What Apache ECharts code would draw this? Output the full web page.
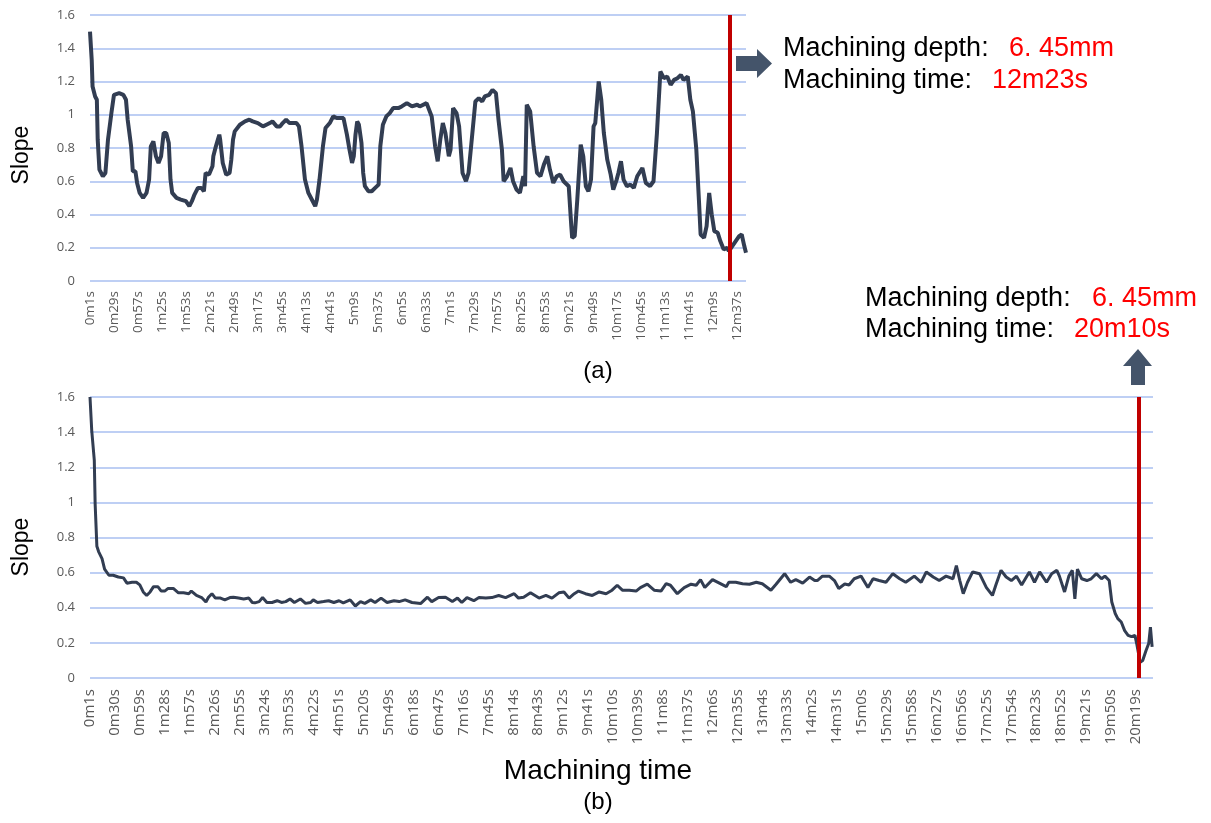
<!DOCTYPE html>
<html><head><meta charset="utf-8">
<script src="https://cdn.jsdelivr.net/npm/echarts@6/dist/echarts.min.js"></script>
<style>html,body{margin:0;padding:0;background:#fff}#c{width:1211px;height:823px}</style>
</head><body><div id="c"></div>
<script>
// ---- tick labels ----
const topTickLabels = ['0m1s','0m29s','0m57s','1m25s','1m53s','2m21s','2m49s','3m17s','3m45s','4m13s','4m41s','5m9s','5m37s','6m5s','6m33s','7m1s','7m29s','7m57s','8m25s','8m53s','9m21s','9m49s','10m17s','10m45s','11m13s','11m41s','12m9s','12m37s'];
const bottomTickLabels = ['0m1s','0m30s','0m59s','1m28s','1m57s','2m26s','2m55s','3m24s','3m53s','4m22s','4m51s','5m20s','5m49s','6m18s','6m47s','7m16s','7m45s','8m14s','8m43s','9m12s','9m41s','10m10s','10m39s','11m8s','11m37s','12m6s','12m35s','13m4s','13m33s','14m2s','14m31s','15m0s','15m29s','15m58s','16m27s','16m56s','17m25s','17m54s','18m23s','18m52s','19m21s','19m50s','20m19s'];

// ---- series: [seconds, slope] ----
const topSeries = [[1,1.50],[3,1.33],[4,1.17],[7,1.11],[9,1.09],[10,0.85],[12,0.67],[16,0.63],[19,0.65],[22,0.85],[26,1.01],[29,1.12],[35,1.13],[40,1.12],[43,1.09],[45,0.97],[49,0.81],[51,0.66],[54,0.66],[56,0.59],[59,0.53],[63,0.50],[67,0.53],[70,0.61],[72,0.81],[75,0.84],[78,0.75],[81,0.71],[84,0.75],[87,0.89],[90,0.89],[93,0.83],[95,0.61],[97,0.53],[102,0.50],[107,0.49],[113,0.48],[117,0.45],[120,0.48],[123,0.52],[127,0.56],[131,0.56],[134,0.54],[136,0.65],[140,0.64],[144,0.69],[145,0.75],[148,0.81],[152,0.88],[153,0.85],[156,0.71],[160,0.64],[164,0.65],[166,0.73],[168,0.85],[170,0.90],[176,0.94],[182,0.96],[187,0.97],[191,0.96],[197,0.95],[203,0.93],[207,0.94],[211,0.95],[214,0.96],[219,0.93],[223,0.93],[226,0.95],[230,0.97],[234,0.95],[238,0.95],[242,0.95],[245,0.93],[248,0.81],[252,0.61],[256,0.53],[260,0.49],[264,0.45],[266,0.49],[269,0.61],[273,0.81],[276,0.92],[281,0.95],[285,0.99],[289,0.98],[293,0.98],[297,0.98],[301,0.88],[304,0.79],[307,0.71],[309,0.75],[311,0.88],[313,0.96],[315,0.94],[318,0.83],[320,0.65],[322,0.57],[326,0.54],[330,0.54],[334,0.56],[338,0.58],[340,0.81],[343,0.94],[347,0.99],[351,1.01],[355,1.04],[361,1.04],[365,1.05],[371,1.07],[377,1.05],[383,1.06],[386,1.05],[394,1.07],[400,0.99],[404,0.81],[407,0.72],[410,0.85],[413,0.95],[416,0.89],[420,0.75],[422,0.79],[425,1.04],[429,1.01],[432,0.93],[436,0.65],[440,0.60],[443,0.65],[446,0.81],[451,1.08],[455,1.10],[459,1.08],[462,1.11],[467,1.12],[471,1.15],[475,1.13],[478,0.97],[482,0.79],[484,0.60],[488,0.63],[492,0.68],[495,0.60],[499,0.55],[503,0.53],[507,0.63],[509,0.57],[511,1.06],[515,1.02],[519,0.81],[523,0.65],[527,0.63],[531,0.70],[535,0.75],[538,0.67],[542,0.59],[546,0.63],[550,0.64],[554,0.60],[560,0.57],[563,0.33],[564,0.26],[567,0.27],[570,0.49],[574,0.82],[577,0.75],[580,0.57],[583,0.54],[586,0.61],[589,0.93],[591,0.95],[595,1.20],[598,1.09],[601,0.89],[605,0.73],[609,0.64],[612,0.55],[616,0.61],[618,0.65],[621,0.72],[624,0.61],[628,0.57],[632,0.58],[636,0.56],[640,0.63],[646,0.68],[650,0.59],[655,0.57],[659,0.60],[663,0.89],[667,1.26],[671,1.22],[675,1.23],[679,1.18],[683,1.21],[687,1.22],[691,1.24],[694,1.21],[699,1.23],[702,1.09],[705,1.02],[709,0.79],[712,0.49],[714,0.28],[718,0.26],[721,0.33],[724,0.53],[727,0.40],[730,0.30],[734,0.29],[737,0.24],[741,0.19],[745,0.20],[747,0.18],[751,0.21],[755,0.24],[759,0.27],[762,0.28],[765,0.21],[767,0.17]];

const bottomSeries = [[1,1.60],[3,1.41],[6,1.24],[7,0.99],[9,0.75],[11,0.72],[15,0.68],[18,0.62],[23,0.585],[28,0.585],[34,0.575],[40,0.57],[44,0.54],[50,0.545],[55,0.545],[59,0.53],[63,0.49],[67,0.47],[71,0.49],[75,0.52],[80,0.52],[84,0.495],[88,0.495],[92,0.51],[98,0.51],[104,0.485],[110,0.485],[116,0.48],[119,0.495],[125,0.47],[131,0.458],[136,0.433],[139,0.46],[143,0.48],[147,0.455],[153,0.455],[158,0.445],[164,0.458],[168,0.46],[174,0.455],[180,0.45],[186,0.455],[190,0.43],[193,0.428],[198,0.435],[202,0.458],[207,0.43],[213,0.43],[219,0.44],[224,0.43],[229,0.435],[234,0.45],[239,0.43],[246,0.45],[252,0.425],[258,0.43],[261,0.445],[266,0.43],[273,0.435],[279,0.44],[285,0.43],[291,0.44],[296,0.428],[304,0.445],[310,0.41],[316,0.435],[321,0.425],[328,0.445],[333,0.43],[340,0.455],[347,0.43],[355,0.44],[361,0.435],[368,0.445],[376,0.43],[386,0.424],[394,0.46],[399,0.435],[407,0.458],[415,0.46],[423,0.435],[429,0.455],[434,0.43],[440,0.458],[448,0.44],[454,0.458],[462,0.455],[469,0.458],[477,0.47],[485,0.458],[495,0.48],[500,0.455],[506,0.46],[514,0.485],[524,0.455],[532,0.47],[539,0.455],[547,0.485],[553,0.49],[559,0.455],[565,0.48],[570,0.495],[578,0.48],[586,0.47],[594,0.49],[602,0.48],[609,0.50],[615,0.528],[621,0.50],[629,0.50],[637,0.495],[642,0.515],[650,0.534],[658,0.50],[666,0.495],[672,0.537],[677,0.528],[685,0.48],[693,0.515],[701,0.534],[707,0.528],[712,0.56],[717,0.515],[726,0.56],[734,0.54],[742,0.52],[745,0.545],[753,0.545],[761,0.537],[769,0.534],[777,0.545],[784,0.537],[794,0.50],[800,0.534],[810,0.594],[817,0.545],[823,0.56],[831,0.54],[839,0.575],[845,0.555],[848,0.555],[854,0.58],[862,0.58],[868,0.555],[873,0.51],[880,0.535],[885,0.53],[891,0.565],[899,0.58],[907,0.515],[913,0.565],[920,0.555],[928,0.545],[936,0.594],[944,0.565],[951,0.545],[961,0.58],[969,0.545],[975,0.604],[983,0.575],[990,0.555],[998,0.58],[1006,0.565],[1010,0.64],[1014,0.555],[1018,0.48],[1023,0.545],[1029,0.604],[1037,0.594],[1045,0.515],[1052,0.47],[1056,0.53],[1062,0.613],[1068,0.575],[1074,0.555],[1080,0.58],[1086,0.53],[1095,0.604],[1101,0.545],[1107,0.604],[1115,0.545],[1121,0.594],[1127,0.613],[1130,0.58],[1136,0.49],[1141,0.58],[1145,0.613],[1148,0.45],[1151,0.62],[1156,0.565],[1162,0.555],[1167,0.565],[1173,0.594],[1179,0.565],[1183,0.58],[1188,0.555],[1191,0.433],[1195,0.367],[1198,0.338],[1202,0.319],[1206,0.27],[1210,0.243],[1214,0.235],[1218,0.243],[1220,0.196],[1224,0.09],[1227,0.10],[1231,0.158],[1234,0.196],[1236,0.29],[1238,0.177]];

const topRange = [1, 767];
const bottomRange = [1, 1239];
const topMarker = 748;
const bottomMarker = 1222;

function toSec(s){ const m = s.match(/(\d+)m(\d+)s/); return (+m[1]) * 60 + (+m[2]); }
const topTickSecs = topTickLabels.map(toSec);
const bottomTickSecs = bottomTickLabels.map(toSec);
function makeFmt(labels, secs){ return v => { const i = secs.indexOf(Math.round(v)); return i >= 0 ? labels[i] : ''; }; }

const gridColor = '#a9bff0';
const lineColor = '#323d52';
const labelColor = '#595959';
const tickFont = 'Open Sans';
const textFont = '"Liberation Sans"';

function xAxisFor(gridIndex, range, labels, secs, size, margin){
  return {
    type: 'value', gridIndex, min: range[0], max: range[1],
    axisLine: { show: false }, axisTick: { show: false },
    splitLine: { show: false },
    axisLabel: { customValues: secs, formatter: makeFmt(labels, secs), rotate: 90, color: labelColor, fontSize: size, fontFamily: tickFont, margin: margin }
  };
}
function yAxisFor(gridIndex){
  return {
    type: 'value', gridIndex, min: 0, max: 1.6, interval: 0.2,
    axisLine: { show: false }, axisTick: { show: false },
    splitLine: { show: true, lineStyle: { color: gridColor, width: 1.5 } },
    axisLabel: { color: labelColor, fontSize: 13, fontFamily: tickFont, margin: 15 }
  };
}
function markerLine(x){
  return { silent: true, symbol: 'none', label: { show: false },
    lineStyle: { color: '#c00000', width: 4, type: 'solid' }, data: [{ xAxis: x }] };
}
const annoFont = '27px ' + textFont;

const chart = echarts.init(document.getElementById('c'), null, { renderer: 'canvas' });
chart.setOption({
  animation: false,
  backgroundColor: '#fff',
  grid: [
    { left: 90, top: 15, width: 656, height: 266 },
    { left: 90, top: 397, width: 1063, height: 281 }
  ],
  xAxis: [
    xAxisFor(0, topRange, topTickLabels, topTickSecs, 13.5, 10),
    xAxisFor(1, bottomRange, bottomTickLabels, bottomTickSecs, 15, 11)
  ],
  yAxis: [yAxisFor(0), yAxisFor(1)],
  series: [
    { type: 'line', xAxisIndex: 0, yAxisIndex: 0, data: topSeries, showSymbol: false, symbol: 'none',
      lineStyle: { color: lineColor, width: 4 }, markLine: markerLine(topMarker) },
    { type: 'line', xAxisIndex: 1, yAxisIndex: 1, data: bottomSeries, showSymbol: false, symbol: 'none',
      lineStyle: { color: lineColor, width: 3 }, markLine: markerLine(bottomMarker) }
  ],
  graphic: [
    { type: 'polygon', shape: { points: [[736,56],[757,56],[757,49],[772,63.5],[757,78],[757,71],[736,71]] }, style: { fill: '#44546a' } },
    { type: 'polygon', shape: { points: [[1131,385],[1131,366],[1123,366],[1138,349],[1152,366],[1145,366],[1145,385]] }, style: { fill: '#44546a' } },
    { type: 'text', style: { text: 'Machining depth:', x: 783, y: 49, fill: '#000', font: annoFont, verticalAlign: 'middle' } },
    { type: 'text', style: { text: '6. 45mm', x: 1009, y: 49, fill: '#ff0000', font: annoFont, verticalAlign: 'middle' } },
    { type: 'text', style: { text: 'Machining time:', x: 783, y: 81, fill: '#000', font: annoFont, verticalAlign: 'middle' } },
    { type: 'text', style: { text: '12m23s', x: 992, y: 81, fill: '#ff0000', font: annoFont, verticalAlign: 'middle' } },
    { type: 'text', style: { text: 'Machining depth:', x: 865, y: 299, fill: '#000', font: annoFont, verticalAlign: 'middle' } },
    { type: 'text', style: { text: '6. 45mm', x: 1092, y: 299, fill: '#ff0000', font: annoFont, verticalAlign: 'middle' } },
    { type: 'text', style: { text: 'Machining time:', x: 865, y: 330, fill: '#000', font: annoFont, verticalAlign: 'middle' } },
    { type: 'text', style: { text: '20m10s', x: 1074, y: 330, fill: '#ff0000', font: annoFont, verticalAlign: 'middle' } },
    { type: 'text', x: 22, y: 155, rotation: Math.PI / 2, style: { text: 'Slope', x: 0, y: 0, fill: '#000', font: '23px ' + textFont, align: 'center', verticalAlign: 'middle' } },
    { type: 'text', x: 22, y: 547, rotation: Math.PI / 2, style: { text: 'Slope', x: 0, y: 0, fill: '#000', font: '23px ' + textFont, align: 'center', verticalAlign: 'middle' } },
    { type: 'text', style: { text: '(a)', x: 598, y: 371, fill: '#000', font: '24px ' + textFont, align: 'center', verticalAlign: 'middle' } },
    { type: 'text', style: { text: 'Machining time', x: 598, y: 771, fill: '#000', font: '28px ' + textFont, align: 'center', verticalAlign: 'middle' } },
    { type: 'text', style: { text: '(b)', x: 598, y: 802, fill: '#000', font: '24px ' + textFont, align: 'center', verticalAlign: 'middle' } }
  ]
});
</script></body></html>
